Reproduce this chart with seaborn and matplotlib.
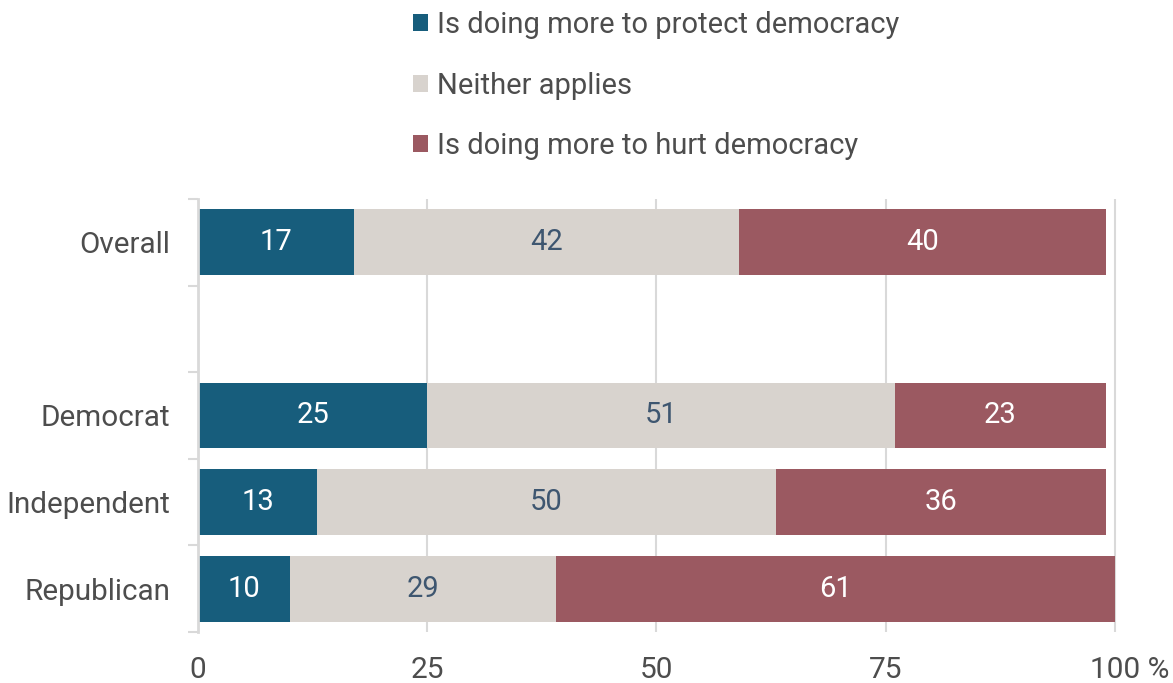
import matplotlib
matplotlib.use("Agg")
import matplotlib.pyplot as plt
import matplotlib.transforms as mtransforms
from matplotlib.patches import Patch
from matplotlib.ticker import FixedLocator
import numpy as np
import pandas as pd
import seaborn as sns

# Survey results by party (percent); the blank row separates Overall from the parties
groups = ["Overall", " ", "Democrat", "Independent", "Republican"]
protect = [17, np.nan, 25, 13, 10]
neither = [42, np.nan, 51, 50, 29]
hurt = [40, np.nan, 23, 36, 61]

series_names = [
    "Is doing more to protect democracy",
    "Neither applies",
    "Is doing more to hurt democracy",
]
series_colors = ["#175d7c", "#d8d3ce", "#9b5961"]
value_colors = ["#ffffff", "#3e5670", "#ffffff"]
x_ticks = [0, 25, 50, 75, 100]
x_tick_labels = ["0", "25", "50", "75", "100 %"]

sns.set_theme(style="white")
plt.rcParams["font.family"] = ["Roboto", "DejaVu Sans"]

TEXT = "#4d4d4d"
LINE = "#d9d9d9"

df = pd.DataFrame({"group": groups, "protect": protect,
                   "neither": neither, "hurt": hurt}).dropna()
df["end1"] = df["protect"]
df["end2"] = df["end1"] + df["neither"]
df["end3"] = df["end2"] + df["hurt"]

fig = plt.figure(figsize=(11.73, 6.83), dpi=100)
ax = fig.add_axes([0.1688, 0.0747, 0.7894, 0.634])

# Stacked bars: draw cumulative totals from the outside in
for col, color in zip(["end3", "end2", "end1"], series_colors[::-1]):
    sns.barplot(data=df, x=col, y="group", order=groups, color=color,
                saturation=1, width=0.76, errorbar=None, linewidth=0, ax=ax)

# Segment value labels
for _, row in df.iterrows():
    y = groups.index(row["group"])
    start = 0
    for key, tcolor in zip(["protect", "neither", "hurt"], value_colors):
        v = row[key]
        ax.text(start + v / 2, y, f"{v:.0f}", ha="center", va="center",
                color=tcolor, fontsize=21)
        start += v

ax.set_xlim(0, 101)
ax.set_ylim(len(groups) - 0.5, -0.5)
ax.set_xlabel("")
ax.set_ylabel("")

ax.set_xticks(x_ticks)
ax.set_xticklabels(x_tick_labels)
ax.xaxis.grid(True, color=LINE, linewidth=1.5)
ax.yaxis.grid(False)
ax.set_axisbelow(True)

for side in ["top", "right", "bottom"]:
    ax.spines[side].set_visible(False)
ax.spines["left"].set_color(LINE)
ax.spines["left"].set_linewidth(2)

ax.yaxis.set_minor_locator(FixedLocator(np.arange(-0.5, len(groups), 1.0)))
ax.tick_params(axis="y", which="minor", left=True, length=7, width=1.5, color=LINE)
ax.tick_params(axis="y", which="major", left=True, length=0, pad=20,
               labelsize=21.3, labelcolor=TEXT)
ax.tick_params(axis="x", which="major", bottom=True, length=0, pad=17,
               labelsize=21.5, labelcolor=TEXT)

# Shift the last tick label so the number sits on its gridline
last = ax.get_xticklabels()[-1]
last.set_transform(last.get_transform() +
                   mtransforms.ScaledTranslation(15 / 100, 0, fig.dpi_scale_trans))

handles = [Patch(facecolor=c, edgecolor="none") for c in series_colors]
fig.legend(handles, series_names, loc="upper left",
           bbox_to_anchor=(0.352, 0.984), frameon=False, fontsize=21,
           handlelength=0.52, handleheight=0.52, handletextpad=0.3,
           labelspacing=1.12, borderpad=0, borderaxespad=0, labelcolor=TEXT)

fig.savefig("out.png", dpi=100, facecolor="white")
